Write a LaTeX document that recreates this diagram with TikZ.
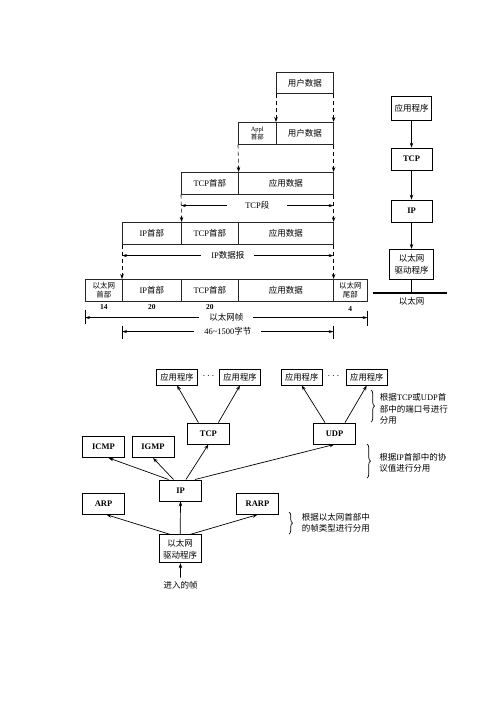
\documentclass[tikz,border=0pt]{standalone}
\usepackage{fontspec}
\setmainfont{Liberation Serif}
\newfontfamily\cjk{Noto Sans CJK SC}
\newcommand{\zh}[1]{{\cjk #1}}
\usetikzlibrary{arrows.meta,decorations.pathreplacing,positioning}
\tikzset{
  cell/.style={draw=black!85, line width=0.6pt, minimum height=22pt, inner sep=0pt, anchor=north west, align=center, font=\fontsize{8.5}{10}\selectfont},
  small/.style={font=\fontsize{7.5}{9}\selectfont},
  arr/.style={-{Stealth[length=5pt,width=3.5pt]}, line width=0.7pt},
  dashdown/.style={-{Stealth[length=5pt,width=3.5pt]}, dash pattern=on 4pt off 3pt, line width=0.6pt},
  span/.style={{Stealth[length=5pt,width=3pt]}-{Stealth[length=5pt,width=3pt]}, line width=0.6pt},
  lbl/.style={fill=white, inner xsep=10pt, inner ysep=1pt, font=\fontsize{8.5}{10}\selectfont},
  num/.style={inner sep=0pt, font=\fontsize{7.5}{9}\selectfont\bfseries},
  box/.style={draw, line width=0.8pt, inner sep=0pt, minimum width=42pt, minimum height=21pt, align=center, font=\fontsize{8.5}{12}\selectfont},
  appbox/.style={box, minimum width=41pt, minimum height=16pt, font=\fontsize{8.3}{10}\selectfont},
  brc/.style={decorate, decoration={brace, amplitude=3.5pt}, line width=0.7pt},
  note/.style={right, align=left, inner sep=0pt, font=\fontsize{8.5}{11.5}\selectfont},
}
\begin{document}
\begin{tikzpicture}[x=1pt, y=-1pt]
\useasboundingbox (0,0) rectangle (496,702);

\node[cell, minimum width=57pt, minimum height=21pt] (user1) at (276,72) {\zh{用户数据}};
\node[cell, minimum width=38pt, font=\fontsize{6.5}{7.5}\selectfont] (appl2) at (238,122) {Appl\\\zh{首部}};
\node[cell, minimum width=57pt] (data2) at (276,122) {\zh{用户数据}};
\node[cell, minimum width=57pt] (tcp3) at (181,172) {TCP\zh{首部}};
\node[cell, minimum width=95pt] (app3) at (238,172) {\zh{应用数据}};
\node[cell, minimum width=59pt] (ip4) at (122,222) {IP\zh{首部}};
\node[cell, minimum width=57pt] (tcp4) at (181,222) {TCP\zh{首部}};
\node[cell, minimum width=95pt] (app4) at (238,222) {\zh{应用数据}};
\node[cell, small, minimum width=37pt] (eth5) at (85,279) {\zh{以太网}\\\zh{首部}};
\node[cell, minimum width=59pt] (ip5) at (122,279) {IP\zh{首部}};
\node[cell, minimum width=57pt] (tcp5) at (181,279) {TCP\zh{首部}};
\node[cell, minimum width=95pt] (app5) at (238,279) {\zh{应用数据}};
\node[cell, small, minimum width=34pt] (tail5) at (333,279) {\zh{以太网}\\\zh{尾部}};

\draw[dashdown] (user1.south west) -- (data2.north west);
\draw[dashdown] (user1.south east) -- (data2.north east);
\draw[dashdown] (appl2.south west) -- (tcp3.north east);
\draw[dashdown] (data2.south east) -- (app3.north east);
\draw[dashdown] (tcp3.south west) -- (ip4.north east);
\draw[dashdown] (app3.south east) -- (app4.north east);
\draw[dashdown] (ip4.south west) -- (ip5.north west);
\draw[dashdown] (app4.south east) -- (app5.north east);

\draw[span] ([yshift=-11pt]tcp3.south west) -- ([yshift=-11pt]app3.south east) node[lbl, midway, inner xsep=18pt] {TCP\zh{段}};
\draw[span] ([yshift=-11pt]ip4.south west) -- ([yshift=-11pt]app4.south east) node[lbl, midway] {IP\zh{数据报}};

\node[num, below=3pt of eth5] (n14) {14};
\node[num, below=3pt of ip5] (n20a) {20};
\node[num, below=3pt of tcp5] (n20b) {20};
\node[num, below=5pt of tail5] (n4) {4};

\draw[span] ([yshift=-16pt]eth5.south west) -- ([yshift=-16pt]tail5.south east) node[lbl, midway] {\zh{以太网帧}};
\draw[line width=0.6pt] ([yshift=-8pt]eth5.south west) -- ([yshift=-22pt]eth5.south west);
\draw[line width=0.6pt] ([yshift=-9pt]tail5.south east) -- ([yshift=-24pt]tail5.south east);
\draw[span] ([yshift=-30pt]ip5.south west) -- ([yshift=-30pt]app5.south east) node[lbl, midway] {46\textasciitilde1500\zh{字节}};
\draw[line width=0.6pt] ([yshift=-24pt]ip5.south west) -- ([yshift=-37pt]ip5.south west);
\draw[line width=0.6pt] ([yshift=-24pt]app5.south east) -- ([yshift=-37pt]app5.south east);

\node[box, minimum width=40pt, minimum height=24pt, line width=0.7pt] (rapp) at (411.5,108.7) {\zh{应用程序}};
\node[box, minimum width=41pt, minimum height=22pt] (rtcp) at (411.5,159) {\textbf{TCP}};
\node[box, minimum width=41pt, minimum height=22pt] (rip) at (411.5,211) {\textbf{IP}};
\node[box, minimum width=44pt, minimum height=30pt, line width=0.7pt] (rdrv) at (411.5,264.3) {\zh{以太网}\\\zh{驱动程序}};
\coordinate (rlan) at (411.5,293);
\draw[arr] (rapp) -- (rtcp);
\draw[arr] (rtcp) -- (rip);
\draw[arr] (rip) -- (rdrv);
\draw[line width=0.7pt] (rdrv.south) -- (rlan);
\draw[line width=1.3pt] (373,293) -- (447,293);
\node[font=\fontsize{8.5}{10}\selectfont] (rlanlbl) at (411.5,301) {\zh{以太网}};

\node[appbox] (app1) at (177,377) {\zh{应用程序}};
\node (dots1) at (208.5,376) {$\cdots$};
\node[appbox] (app2) at (240,377) {\zh{应用程序}};
\node[appbox] (app3b) at (301.7,377) {\zh{应用程序}};
\node (dots2) at (333.5,376) {$\cdots$};
\node[appbox] (app4b) at (366.8,377) {\zh{应用程序}};
\node[box] (btcp) at (208.4,433.5) {\textbf{TCP}};
\node[box] (budp) at (334.5,433.5) {\textbf{UDP}};
\node[box] (icmp) at (103.5,447) {\textbf{ICMP}};
\node[box] (igmp) at (153,447) {\textbf{IGMP}};
\node[box] (bip) at (180.5,490.4) {\textbf{IP}};
\node[box] (arp) at (103.5,503.8) {\textbf{ARP}};
\node[box] (rarp) at (257.5,503.8) {\textbf{RARP}};
\node[box, minimum height=28pt] (drv) at (180.2,548.8) {\zh{以太网}\\\zh{驱动程序}};
\node[font=\fontsize{8.5}{10}\selectfont] (inframe) at (180.7,585) {\zh{进入的帧}};

\draw[arr] ([xshift=-10pt]btcp.north) -- (app1.south);
\draw[arr] ([xshift=10pt]btcp.north) -- (app2.south);
\draw[arr] ([xshift=-9.5pt]budp.north) -- (app3b.south);
\draw[arr] ([xshift=10.5pt]budp.north) -- (app4b.south);
\draw[arr] ([xshift=-12pt]bip.north) -- ([xshift=5pt]icmp.south);
\draw[arr] ([xshift=-7pt]bip.north) -- (igmp.south);
\draw[arr] ([xshift=5.5pt]bip.north) -- (btcp.south);
\draw[arr] ([xshift=14.5pt]bip.north) -- (budp.south);
\draw[arr] ([xshift=-10pt]drv.north) -- ([xshift=3pt]arp.south);
\draw[arr] (drv.north) -- (bip.south);
\draw[arr] ([xshift=10pt]drv.north) -- (rarp.south);
\draw[arr] (inframe) -- (drv);

\draw[brc] (371,390) -- (371,422) node[note, midway, xshift=8.5pt, yshift=-3pt] {\zh{根据}TCP\zh{或}UDP\zh{首}\\\zh{部中的端口号进行}\\\zh{分用}};
\draw[brc] (367,444) -- (367,478) node[note, midway, xshift=12pt, yshift=-2pt] {\zh{根据}IP\zh{首部中的协}\\\zh{议值进行分用}};
\draw[brc] (289,512) -- (289,534) node[note, midway, xshift=12.5pt] {\zh{根据以太网首部中}\\\zh{的帧类型进行分用}};
\end{tikzpicture}
\end{document}
